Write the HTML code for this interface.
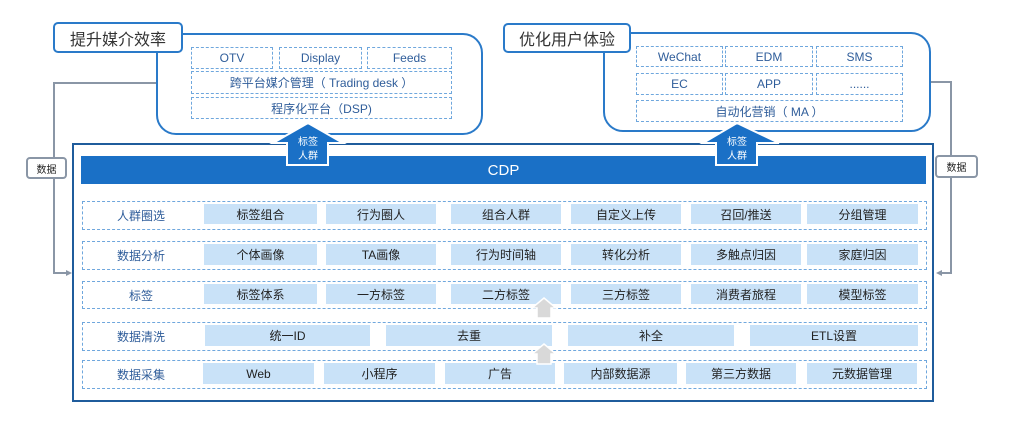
<!DOCTYPE html>
<html><head><meta charset="utf-8"><style>
html,body{margin:0;padding:0;background:#fff;}
body{width:1024px;height:440px;position:relative;overflow:hidden;font-family:"Liberation Sans","Noto Sans CJK SC",sans-serif;}
.a{position:absolute;box-sizing:border-box;}
.cont{border:2px solid #2a7ac9;border-radius:20px;background:#fff;}
.title{border:2px solid #2a7ac9;border-radius:5px;background:#fff;font-size:16px;color:#333;display:flex;align-items:center;justify-content:center;}
.d{border:1.3px dashed #6fa7dd;display:flex;align-items:center;justify-content:center;font-size:12px;color:#2f5d9a;}
.row{border:1.3px dashed #6fa7dd;}
.lab{position:absolute;font-size:12px;color:#2f5d9a;display:flex;align-items:center;justify-content:center;}
.c{position:absolute;background:#c9e2f8;font-size:12px;color:#222;display:flex;align-items:center;justify-content:center;}
.tag{border:2px solid #8a96a6;border-radius:4px;background:#fff;font-size:10px;color:#222;display:flex;align-items:center;justify-content:center;}
</style></head><body>

<svg class="a" style="left:0;top:0" width="1024" height="440">
  <polyline points="156,83 54,83 54,273 68,273" fill="none" stroke="#8a96a6" stroke-width="2"/>
  <polygon points="72,273 66,270 66,276" fill="#8a96a6"/>
  <polyline points="931,82 951,82 951,273 940,273" fill="none" stroke="#8a96a6" stroke-width="2"/>
  <polygon points="936,273 942,270 942,276" fill="#8a96a6"/>
</svg>

<!-- containers -->
<div class="a cont" style="left:156px;top:33px;width:327px;height:102px;"></div>
<div class="a cont" style="left:603px;top:32px;width:328px;height:100px;"></div>

<div class="a title" style="left:53px;top:22px;width:130px;height:31px;">提升媒介效率</div>
<div class="a title" style="left:503px;top:23px;width:128px;height:30px;">优化用户体验</div>

<!-- left dashed -->
<div class="a d" style="left:191px;top:47px;width:82px;height:22px;">OTV</div>
<div class="a d" style="left:279px;top:47px;width:83px;height:22px;">Display</div>
<div class="a d" style="left:367px;top:47px;width:85px;height:22px;">Feeds</div>
<div class="a d" style="left:191px;top:71px;width:261px;height:23px;">跨平台媒介管理（ Trading desk ）</div>
<div class="a d" style="left:191px;top:97px;width:261px;height:22px;">程序化平台（DSP)</div>

<!-- right dashed -->
<div class="a d" style="left:636px;top:46px;width:87px;height:21px;">WeChat</div>
<div class="a d" style="left:725px;top:46px;width:88px;height:21px;">EDM</div>
<div class="a d" style="left:816px;top:46px;width:87px;height:21px;">SMS</div>
<div class="a d" style="left:636px;top:73px;width:87px;height:22px;">EC</div>
<div class="a d" style="left:725px;top:73px;width:88px;height:22px;">APP</div>
<div class="a d" style="left:816px;top:73px;width:87px;height:22px;">......</div>
<div class="a d" style="left:636px;top:100px;width:267px;height:22px;">自动化营销（ MA ）</div>

<!-- CDP frame -->
<div class="a" style="left:72px;top:143px;width:862px;height:259px;border:2px solid #1f5c9c;background:#fff;"></div>
<div class="a" style="left:81px;top:156px;width:845px;height:28px;background:#1a70c6;color:#fff;font-size:15px;display:flex;align-items:center;justify-content:center;">CDP</div>

<!-- rows -->
<div class="a row" style="left:82px;top:201px;width:845px;height:29px;"></div>
<div class="lab" style="left:82px;top:201px;width:118px;height:29px;">人群圈选</div>
<div class="c" style="left:204px;top:204px;width:113px;height:20px;">标签组合</div>
<div class="c" style="left:326px;top:204px;width:110px;height:20px;">行为圈人</div>
<div class="c" style="left:451px;top:204px;width:110px;height:20px;">组合人群</div>
<div class="c" style="left:571px;top:204px;width:110px;height:20px;">自定义上传</div>
<div class="c" style="left:691px;top:204px;width:110px;height:20px;">召回/推送</div>
<div class="c" style="left:807px;top:204px;width:111px;height:20px;">分组管理</div>

<div class="a row" style="left:82px;top:241px;width:845px;height:29px;"></div>
<div class="lab" style="left:82px;top:241px;width:118px;height:29px;">数据分析</div>
<div class="c" style="left:204px;top:244px;width:113px;height:21px;">个体画像</div>
<div class="c" style="left:326px;top:244px;width:110px;height:21px;">TA画像</div>
<div class="c" style="left:451px;top:244px;width:110px;height:21px;">行为时间轴</div>
<div class="c" style="left:571px;top:244px;width:110px;height:21px;">转化分析</div>
<div class="c" style="left:691px;top:244px;width:110px;height:21px;">多触点归因</div>
<div class="c" style="left:807px;top:244px;width:111px;height:21px;">家庭归因</div>

<div class="a row" style="left:82px;top:281px;width:845px;height:28px;"></div>
<div class="lab" style="left:82px;top:281px;width:118px;height:28px;">标签</div>
<div class="c" style="left:204px;top:284px;width:113px;height:20px;">标签体系</div>
<div class="c" style="left:326px;top:284px;width:110px;height:20px;">一方标签</div>
<div class="c" style="left:451px;top:284px;width:110px;height:20px;">二方标签</div>
<div class="c" style="left:571px;top:284px;width:110px;height:20px;">三方标签</div>
<div class="c" style="left:691px;top:284px;width:110px;height:20px;">消费者旅程</div>
<div class="c" style="left:807px;top:284px;width:111px;height:20px;">模型标签</div>

<div class="a row" style="left:82px;top:322px;width:845px;height:29px;"></div>
<div class="lab" style="left:82px;top:322px;width:118px;height:29px;">数据清洗</div>
<div class="c" style="left:205px;top:325px;width:165px;height:21px;">统一ID</div>
<div class="c" style="left:386px;top:325px;width:166px;height:21px;">去重</div>
<div class="c" style="left:568px;top:325px;width:166px;height:21px;">补全</div>
<div class="c" style="left:750px;top:325px;width:168px;height:21px;">ETL设置</div>

<div class="a row" style="left:82px;top:360px;width:845px;height:29px;"></div>
<div class="lab" style="left:82px;top:360px;width:118px;height:29px;">数据采集</div>
<div class="c" style="left:203px;top:363px;width:111px;height:21px;">Web</div>
<div class="c" style="left:324px;top:363px;width:111px;height:21px;">小程序</div>
<div class="c" style="left:445px;top:363px;width:110px;height:21px;">广告</div>
<div class="c" style="left:564px;top:363px;width:113px;height:21px;">内部数据源</div>
<div class="c" style="left:686px;top:363px;width:110px;height:21px;">第三方数据</div>
<div class="c" style="left:807px;top:363px;width:110px;height:21px;">元数据管理</div>

<!-- tags -->
<div class="a tag" style="left:26px;top:157px;width:41px;height:22px;">数据</div>
<div class="a tag" style="left:935px;top:155px;width:43px;height:23px;">数据</div>

<svg class="a" style="left:0;top:0" width="1024" height="440">
  <polygon points="308,123 343,143 328,143 328,165 287,165 287,143 273,143" fill="#1a70c6" stroke="#fff" stroke-width="2" stroke-linejoin="miter"/>
  <text x="308" y="145" font-size="10" fill="#fff" text-anchor="middle" font-family="Liberation Sans, Noto Sans CJK SC, sans-serif">标签</text>
  <text x="308" y="159" font-size="10" fill="#fff" text-anchor="middle" font-family="Liberation Sans, Noto Sans CJK SC, sans-serif">人群</text>
  <polygon points="737,123 779,143 757,143 757,165 716,165 716,143 703,143" fill="#1a70c6" stroke="#fff" stroke-width="2"/>
  <text x="737" y="145" font-size="10" fill="#fff" text-anchor="middle" font-family="Liberation Sans, Noto Sans CJK SC, sans-serif">标签</text>
  <text x="737" y="159" font-size="10" fill="#fff" text-anchor="middle" font-family="Liberation Sans, Noto Sans CJK SC, sans-serif">人群</text>
  <polygon points="544,298 556,308 551,308 551,318 537,318 537,308 532,308" fill="#d9d9d9" stroke="#fff" stroke-width="1.5"/>
  <polygon points="544,344 556,354 551,354 551,364 537,364 537,354 532,354" fill="#d9d9d9" stroke="#fff" stroke-width="1.5"/>
</svg>
</body></html>
